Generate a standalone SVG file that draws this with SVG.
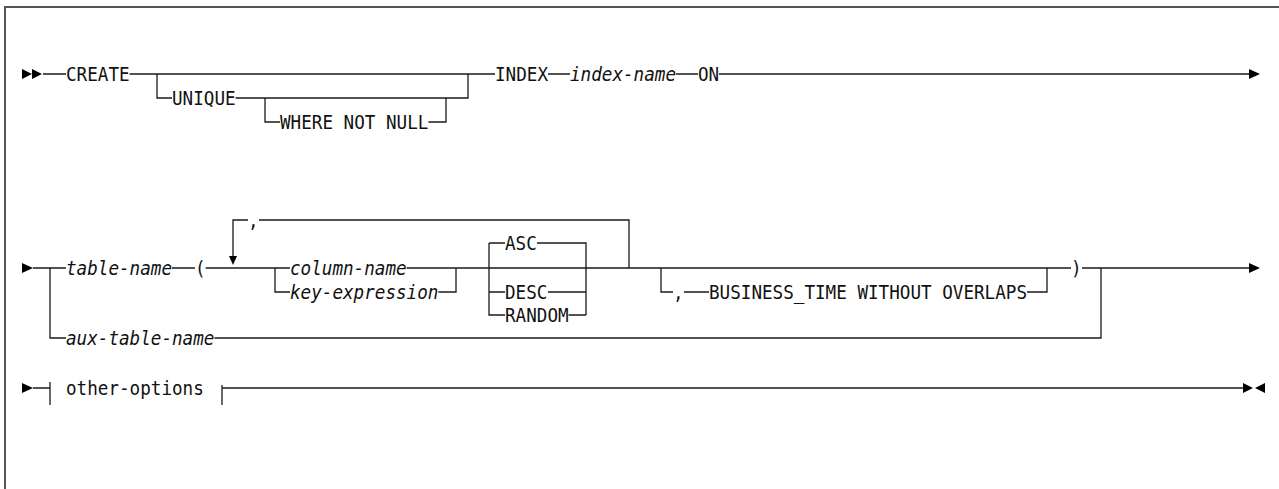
<svg xmlns="http://www.w3.org/2000/svg" width="1279" height="489" viewBox="0 0 1279 489">
<style>
text{font-family:"DejaVu Sans Mono","Liberation Mono",monospace;font-size:19.5px;fill:#111}
.v{font-style:italic}
.c path{fill:none;stroke:#1a1a1a;stroke-width:1.3}
.t{fill:#000}
</style>
<rect x="0" y="0" width="1279" height="489" fill="#fff"/>
<rect x="5" y="7" width="1300" height="500" fill="none" stroke="#555" stroke-width="2"/>
<g id="connectors" class="c">
<path d="M43,74 H66 M129.6,74 H495 M157,74 V98 H172 M235.6,98 H468 V74 M265,98 V122 H280 M428.4,122 H446 V98 M548,74 H570 M676,74 H698 M719,74 H1250"/>
<path d="M33,268 H66 M50,268 V338 H66 M214.4,338 H1101 V268 M172,268 H195 M205.6,268 H290 M406.6,268 H1071 M1082,268 H1250"/>
<path d="M629,268 V220 H259 M248,220 H233 V257"/>
<path d="M275,268 V292 H290 M438.4,292 H456 V268"/>
<path d="M489,243 V315 H505 M489,243 H505 M489,292 H505 M537,243 H586 V315 M548,292 H586 M568.6,315 H586"/>
<path d="M661,268 V292 H673 M684,292 H709 M1027,292 H1047 V268"/>
<path d="M33,388 H50 M50,382 V405 M222,385 V405 M222,388 H1243"/>
<polygon class="t" points="22,69 32,74 22,79"/>
<polygon class="t" points="32,69 42,74 32,79"/>
<polygon class="t" points="1249,69 1260,74 1249,79"/>
<polygon class="t" points="22,263 33,268 22,273"/>
<polygon class="t" points="229,256 237,256 233,265"/>
<polygon class="t" points="1249,263 1260,268 1249,273"/>
<polygon class="t" points="22,383 33,388 22,393"/>
<polygon class="t" points="1243,383 1253,388 1243,393"/>
<polygon class="t" points="1265,383 1255,388 1265,393"/>
</g>
<g id="create"><text x="66" y="80.5" textLength="63.6" lengthAdjust="spacingAndGlyphs">CREATE</text></g>
<g id="unique"><text x="172" y="104.5" textLength="63.6" lengthAdjust="spacingAndGlyphs">UNIQUE</text></g>
<g id="where-not-null"><text x="280" y="128.5" textLength="148.4" lengthAdjust="spacingAndGlyphs">WHERE NOT NULL</text></g>
<g id="index"><text x="495" y="80.5" textLength="53" lengthAdjust="spacingAndGlyphs">INDEX</text></g>
<g id="index-name"><text class="v" x="570" y="80.5" textLength="106" lengthAdjust="spacingAndGlyphs">index-name</text></g>
<g id="on"><text x="698" y="80.5" textLength="21.2" lengthAdjust="spacingAndGlyphs">ON</text></g>
<g id="table-name"><text class="v" x="66" y="274.5" textLength="106" lengthAdjust="spacingAndGlyphs">table-name</text></g>
<g id="lparen"><text x="195" y="274.5" textLength="10.6" lengthAdjust="spacingAndGlyphs">(</text></g>
<g id="loop-comma"><text x="248" y="226.5" textLength="10.6" lengthAdjust="spacingAndGlyphs">,</text></g>
<g id="column-name"><text class="v" x="290" y="274.5" textLength="116.6" lengthAdjust="spacingAndGlyphs">column-name</text></g>
<g id="key-expression"><text class="v" x="290" y="298.5" textLength="148.4" lengthAdjust="spacingAndGlyphs">key-expression</text></g>
<g id="asc"><text x="505" y="249.5" textLength="31.8" lengthAdjust="spacingAndGlyphs">ASC</text></g>
<g id="desc"><text x="505" y="298.5" textLength="42.4" lengthAdjust="spacingAndGlyphs">DESC</text></g>
<g id="random"><text x="505" y="321.5" textLength="63.6" lengthAdjust="spacingAndGlyphs">RANDOM</text></g>
<g id="bt-comma"><text x="673" y="298.5" textLength="10.6" lengthAdjust="spacingAndGlyphs">,</text></g>
<g id="business-time"><text x="709" y="298.5" textLength="318" lengthAdjust="spacingAndGlyphs">BUSINESS_TIME WITHOUT OVERLAPS</text></g>
<g id="rparen"><text x="1071" y="274.5" textLength="10.6" lengthAdjust="spacingAndGlyphs">)</text></g>
<g id="aux-table-name"><text class="v" x="66" y="344.5" textLength="148.4" lengthAdjust="spacingAndGlyphs">aux-table-name</text></g>
<g id="other-options"><text x="66" y="394.5" textLength="137.8" lengthAdjust="spacingAndGlyphs">other-options</text></g>
</svg>
